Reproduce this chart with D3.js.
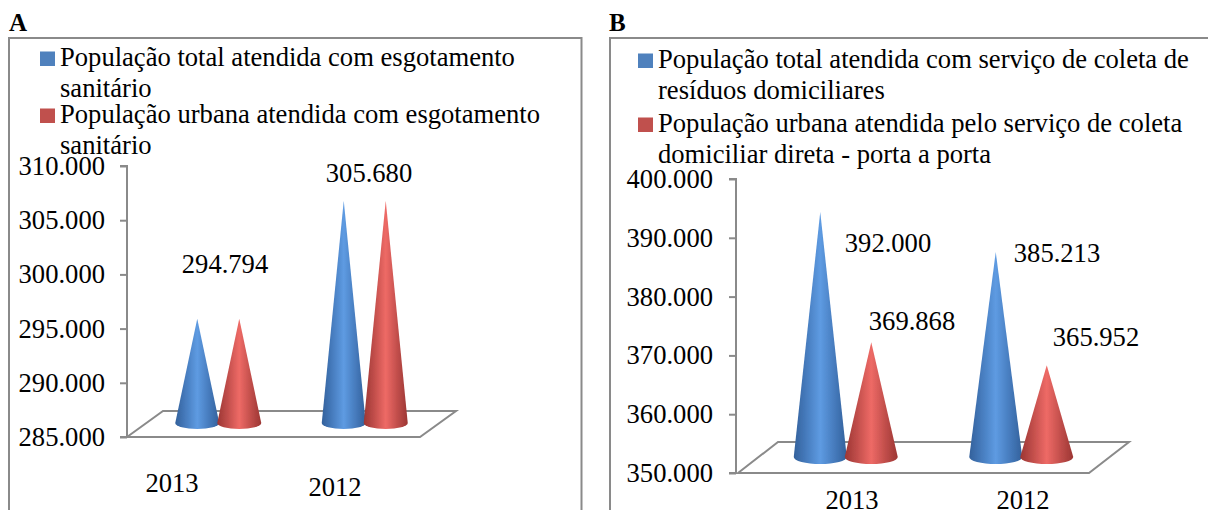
<!DOCTYPE html>
<html><head><meta charset="utf-8">
<script src="https://cdn.jsdelivr.net/npm/d3@7"></script>
<style>html,body{margin:0;padding:0;background:#fff;overflow:hidden}svg{display:block}text{font-family:"Liberation Serif",serif;fill:#000}</style>
</head><body>
<script>
const categories = ["2013", "2012"];
const ticksA = [285000, 290000, 295000, 300000, 305000, 310000];
const ticksB = [350000, 360000, 370000, 380000, 390000, 400000];
const totalA = [294794, 305680];
const urbanA = [294794, 305680];
const totalB = [392000, 385213];
const urbanB = [369868, 365952];
const legendA = [["População total atendida com esgotamento", "sanitário"], ["População urbana atendida com esgotamento", "sanitário"]];
const legendB = [["População total atendida com serviço de coleta de", "resíduos domiciliares"], ["População urbana atendida pelo serviço de coleta", "domiciliar direta - porta a porta"]];

const fmt = v => d3.format(",")(v).replace(/,/g, ".");
const W = 1208, H = 510;
const svg = d3.select("body").append("svg").attr("width", W).attr("height", H);
const defs = svg.append("defs");
function grad(id, c) {
  const g = defs.append("linearGradient").attr("id", id);
  [[0, c[0]], [.2, c[1]], [.5, c[2]], [.8, c[1]], [1, c[0]]].forEach(s => g.append("stop").attr("offset", s[0]).attr("stop-color", s[1]));
}
grad("gBlue", ["#33619b", "#4377b8", "#5e9be2"]);
grad("gRed", ["#9c3633", "#bb4a47", "#ee6a66"]);
defs.append("filter").attr("id", "soft").append("feGaussianBlur").attr("stdDeviation", 0.5);
const GREY = "#8a8a8a", FS = 26.6, LFS = 26.6;

function panel(p) {
  const g = svg.append("g");
  g.append("text").attr("x", p.letterX).attr("y", 31).attr("font-size", 25).attr("font-weight", "bold").text(p.letter);
  g.append("path").attr("d", `M${p.frame[0]},${H + 5}V${p.frame[2]}H${p.frame[1]}V${H + 5}`).attr("fill", "none").attr("stroke", GREY).attr("stroke-width", 2);

  // legend
  p.legend.forEach((lines, i) => {
    g.append("rect").attr("x", p.swX).attr("y", p.lineY[i * 2] - 14.5).attr("width", 15).attr("height", 14.5).attr("fill", i ? "#c0504d" : "#4f81bd");
    lines.forEach((t, j) => g.append("text").attr("x", p.textX).attr("y", p.lineY[i * 2 + j]).attr("font-size", LFS).text(t));
  });

  const y = d3.scaleLinear().domain(d3.extent(p.ticks)).range(p.yRange);
  const x = d3.scaleBand().domain(categories).range(p.floorX);
  const ax = g.append("g").attr("transform", `translate(${p.axisX},0)`).call(d3.axisLeft(y).tickValues(p.ticks).tickFormat(fmt).tickSize(7).tickPadding(p.tickPad));
  ax.selectAll("path,line").attr("stroke", GREY).attr("stroke-width", 2);
  ax.select(".domain").attr("d", `M-7,${p.yRange[1]}H0V${p.yRange[0]}H-7`);
  ax.selectAll("text").attr("font-size", FS).attr("font-family", '"Liberation Serif",serif').attr("fill", "#000");

  // floor
  const [fl, fr] = p.floorX, fy = p.yRange[0], dx = p.depth[0], dy = p.depth[1];
  g.append("path").attr("d", `M${fl},${fy}L${fl + dx},${fy - dy}H${fr + dx}L${fr},${fy}Z`).attr("fill", "none").attr("stroke", GREY).attr("stroke-width", 2).attr("stroke-linejoin", "miter");

  // cones
  const sx = d3.scaleBand().domain([0, 1]).range([-p.halfGap, p.halfGap]);
  const lift = p.lift, hw = p.halfBase, ry = p.ry;
  const cones = [];
  categories.forEach((c, i) => {
    [p.total[i], p.urban[i]].forEach((v, s) => cones.push({c, v, s}));
  });
  g.selectAll("path.cone").data(cones).join("path").attr("class", "cone")
    .attr("fill", d => d.s ? "url(#gRed)" : "url(#gBlue)")
    .attr("filter", "url(#soft)")
    .attr("d", d => {
      const cx = x(d.c) + x.bandwidth() / 2 + p.coneShift + sx(d.s) + sx.bandwidth() / 2;
      const by = fy - lift;
      return `M${cx},${y(d.v) - lift}L${cx + hw},${by - 2}A${hw},${ry} 0 0 1 ${cx - hw},${by - 2}Z`;
    });

  p.labels.forEach(l => g.append("text").attr("x", l.x).attr("y", l.y).attr("font-size", FS).attr("text-anchor", "middle").text(fmt(p[l.s][l.i])));
  p.catPos.forEach((l, i) => g.append("text").attr("x", l[0]).attr("y", l[1]).attr("font-size", FS).attr("text-anchor", "middle").text(categories[i]));
}

panel({
  letter: "A", letterX: 9, frame: [9, 581.5, 38], legend: legendA, swX: 40, textX: 60, lineY: [66, 97, 123, 154],
  ticks: ticksA, yRange: [437, 166], axisX: 127, tickPad: 15, floorX: [127, 420], depth: [36, 26], lift: 12, coneShift: 18, halfBase: 22, ry: 6, halfGap: 42,
  total: totalA, urban: urbanA,
  labels: [{s: "total", i: 0, x: 225, y: 273}, {s: "total", i: 1, x: 369, y: 182}],
  catPos: [[172, 492], [335, 496]]
});
panel({
  letter: "B", letterX: 609, frame: [610, W + 5, 38], legend: legendB, swX: 638, textX: 658, lineY: [68, 99, 132, 163],
  ticks: ticksB, yRange: [473, 179], axisX: 736, tickPad: 16, floorX: [738, 1089], depth: [40, 31], lift: 14, coneShift: 20, halfBase: 26.5, ry: 7, halfGap: 51,
  total: totalB, urban: urbanB,
  labels: [{s: "total", i: 0, x: 888, y: 252}, {s: "total", i: 1, x: 1057, y: 262}, {s: "urban", i: 0, x: 912, y: 330}, {s: "urban", i: 1, x: 1096, y: 346}],
  catPos: [[852, 509], [1023, 509]]
});
</script>
</body></html>
